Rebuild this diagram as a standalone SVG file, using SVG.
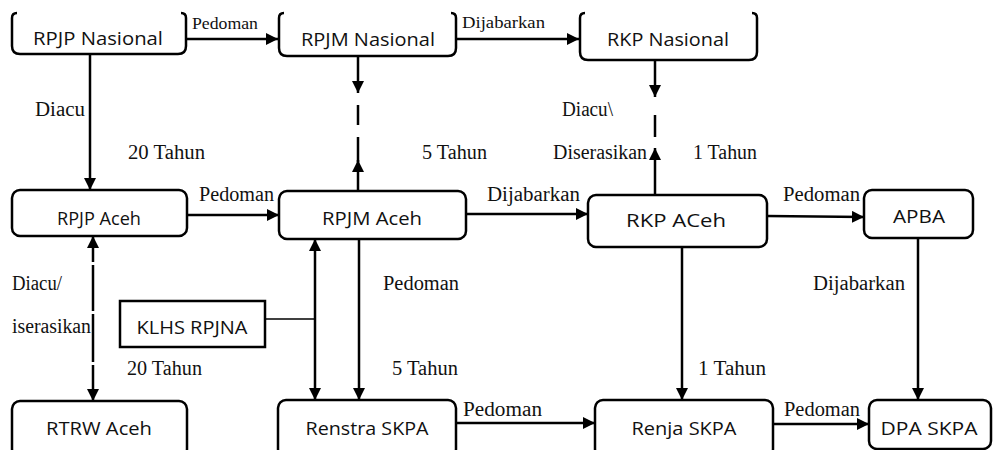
<svg xmlns="http://www.w3.org/2000/svg" width="993" height="450" viewBox="0 0 993 450">
<style>
.box{fill:#fff;stroke:#000;stroke-width:2.5}
.open{fill:none;stroke:#000;stroke-width:2.5}
.bt{font-family:"Open Sans","Noto Sans",sans-serif;font-size:18px;fill:#111;text-anchor:middle}
.lb{font-family:"Liberation Serif","Times New Roman",serif;font-size:20px;fill:#111}
.lbs{font-family:"Liberation Serif","Times New Roman",serif;font-size:17px;fill:#111}
.c{fill:none;stroke:#000;stroke-width:2.5}
.thin{fill:none;stroke:#000;stroke-width:1.5}
</style>
<defs>
<marker id="ah" markerUnits="userSpaceOnUse" markerWidth="13" markerHeight="12" refX="12" refY="6" orient="auto-start-reverse" viewBox="0 0 13 12">
<path d="M0,0 L12,6 L0,12 z" fill="#000"/>
</marker>
</defs>
<rect width="993" height="450" fill="#fff"/>

<g id="connectors">
<line class="c" x1="186" y1="39" x2="278" y2="39" marker-end="url(#ah)"/>
<line class="c" x1="456" y1="39" x2="579" y2="39" marker-end="url(#ah)"/>
<line class="c" x1="90" y1="54" x2="90" y2="190" marker-end="url(#ah)"/>
<line class="c" x1="358" y1="56" x2="358" y2="93" marker-end="url(#ah)"/>
<line class="c" x1="358" y1="105" x2="358" y2="125"/>
<line class="c" x1="358" y1="137" x2="358" y2="162"/>
<line class="c" x1="358" y1="191" x2="358" y2="160" marker-end="url(#ah)"/>
<line class="c" x1="655" y1="60" x2="655" y2="97" marker-end="url(#ah)"/>
<line class="c" x1="655" y1="115" x2="655" y2="137"/>
<line class="c" x1="655" y1="195" x2="655" y2="148" marker-end="url(#ah)"/>
<line class="c" x1="187" y1="215" x2="279" y2="215" marker-end="url(#ah)"/>
<line class="c" x1="466" y1="214" x2="588" y2="214" marker-end="url(#ah)"/>
<line class="c" x1="767" y1="216" x2="864" y2="217" marker-end="url(#ah)"/>
<line class="c" x1="93" y1="262" x2="93" y2="236" marker-end="url(#ah)"/>
<line class="c" x1="93" y1="265" x2="93" y2="311"/>
<line class="c" x1="93" y1="314" x2="93" y2="362"/>
<line class="c" x1="93" y1="365" x2="93" y2="401" marker-end="url(#ah)"/>
<line class="thin" x1="265" y1="319" x2="315" y2="319"/>
<line class="c" x1="315" y1="239" x2="315" y2="400" marker-start="url(#ah)" marker-end="url(#ah)"/>
<line class="c" x1="359" y1="235" x2="359" y2="400" marker-end="url(#ah)"/>
<line class="c" x1="682" y1="247" x2="682" y2="400" marker-end="url(#ah)"/>
<line class="c" x1="918" y1="238" x2="918" y2="400" marker-end="url(#ah)"/>
<line class="c" x1="456" y1="423" x2="595" y2="423" marker-end="url(#ah)"/>
<line class="c" x1="773" y1="424" x2="869" y2="424" marker-end="url(#ah)"/>
</g>

<g id="labels">
<text class="lbs" x="192" y="29" textLength="66" lengthAdjust="spacingAndGlyphs">Pedoman</text>
<text class="lbs" x="462" y="28" textLength="83" lengthAdjust="spacingAndGlyphs">Dijabarkan</text>
<text class="lb" x="35" y="116" textLength="50" lengthAdjust="spacingAndGlyphs">Diacu</text>
<text class="lb" x="562" y="116" textLength="51" lengthAdjust="spacingAndGlyphs">Diacu\</text>
<text class="lb" x="128" y="159" textLength="77" lengthAdjust="spacingAndGlyphs">20 Tahun</text>
<text class="lb" x="422" y="159" textLength="65" lengthAdjust="spacingAndGlyphs">5 Tahun</text>
<text class="lb" x="553" y="159" textLength="94" lengthAdjust="spacingAndGlyphs">Diserasikan</text>
<text class="lb" x="693" y="159" textLength="64" lengthAdjust="spacingAndGlyphs">1 Tahun</text>
<text class="lb" x="199" y="201" textLength="75" lengthAdjust="spacingAndGlyphs">Pedoman</text>
<text class="lb" x="487" y="201" textLength="93" lengthAdjust="spacingAndGlyphs">Dijabarkan</text>
<text class="lb" x="783" y="201" textLength="77" lengthAdjust="spacingAndGlyphs">Pedoman</text>
<text class="lb" x="12" y="290" textLength="50" lengthAdjust="spacingAndGlyphs">Diacu/</text>
<text class="lb" x="383" y="290" textLength="76" lengthAdjust="spacingAndGlyphs">Pedoman</text>
<text class="lb" x="813" y="290" textLength="92" lengthAdjust="spacingAndGlyphs">Dijabarkan</text>
<text class="lb" x="12" y="333" textLength="79" lengthAdjust="spacingAndGlyphs">iserasikan</text>
<text class="lb" x="127" y="375" textLength="75" lengthAdjust="spacingAndGlyphs">20 Tahun</text>
<text class="lb" x="392" y="375" textLength="66" lengthAdjust="spacingAndGlyphs">5 Tahun</text>
<text class="lb" x="698" y="375" textLength="68" lengthAdjust="spacingAndGlyphs">1 Tahun</text>
<text class="lb" x="463" y="416" textLength="79" lengthAdjust="spacingAndGlyphs">Pedoman</text>
<text class="lb" x="784" y="416" textLength="76" lengthAdjust="spacingAndGlyphs">Pedoman</text>
</g>

<g id="rpjp-nasional">
<path class="open" d="M17,13 Q12,13 12,18 V46 Q12,54 20,54 H178 Q186,54 186,46 V18 Q186,13 181,13"/>
<text class="bt" x="98" y="45" textLength="130" lengthAdjust="spacingAndGlyphs">RPJP Nasional</text>
</g>
<g id="rpjm-nasional">
<path class="open" d="M284,13 Q279,13 279,18 V48 Q279,56 287,56 H448 Q456,56 456,48 V18 Q456,13 451,13"/>
<text class="bt" x="368" y="46" textLength="134" lengthAdjust="spacingAndGlyphs">RPJM Nasional</text>
</g>
<g id="rkp-nasional">
<path class="open" d="M585,13 Q580,13 580,18 V52 Q580,60 588,60 H749 Q757,60 757,52 V18 Q757,13 752,13"/>
<text class="bt" x="668" y="46" textLength="122" lengthAdjust="spacingAndGlyphs">RKP Nasional</text>
</g>
<g id="rpjp-aceh">
<rect class="box" x="12" y="190" width="175" height="46" rx="8"/>
<text class="bt" x="99" y="225" textLength="84" lengthAdjust="spacingAndGlyphs">RPJP Aceh</text>
</g>
<g id="rpjm-aceh">
<rect class="box" x="279" y="191" width="187" height="48" rx="8"/>
<text class="bt" x="372" y="225" textLength="100" lengthAdjust="spacingAndGlyphs">RPJM Aceh</text>
</g>
<g id="rkp-aceh">
<rect class="box" x="588" y="195" width="179" height="52" rx="8"/>
<text class="bt" x="676" y="227" textLength="100" lengthAdjust="spacingAndGlyphs">RKP ACeh</text>
</g>
<g id="apba">
<rect class="box" x="864" y="190" width="109" height="48" rx="8"/>
<text class="bt" x="919" y="223" textLength="52" lengthAdjust="spacingAndGlyphs">APBA</text>
</g>
<g id="klhs-rpjna">
<rect class="box" x="120" y="301" width="145" height="46"/>
<text class="bt" x="192" y="334" textLength="111" lengthAdjust="spacingAndGlyphs">KLHS RPJNA</text>
</g>
<g id="rtrw-aceh">
<rect class="box" x="12" y="401" width="175" height="56" rx="8"/>
<text class="bt" x="99" y="435" textLength="106" lengthAdjust="spacingAndGlyphs">RTRW Aceh</text>
</g>
<g id="renstra-skpa">
<rect class="box" x="278" y="400" width="178" height="57" rx="8"/>
<text class="bt" x="367" y="435" textLength="123" lengthAdjust="spacingAndGlyphs">Renstra SKPA</text>
</g>
<g id="renja-skpa">
<rect class="box" x="595" y="400" width="178" height="57" rx="8"/>
<text class="bt" x="684" y="435" textLength="105" lengthAdjust="spacingAndGlyphs">Renja SKPA</text>
</g>
<g id="dpa-skpa">
<rect class="box" x="869" y="400" width="122" height="49" rx="8"/>
<text class="bt" x="929" y="435" textLength="97" lengthAdjust="spacingAndGlyphs">DPA SKPA</text>
</g>
</svg>
